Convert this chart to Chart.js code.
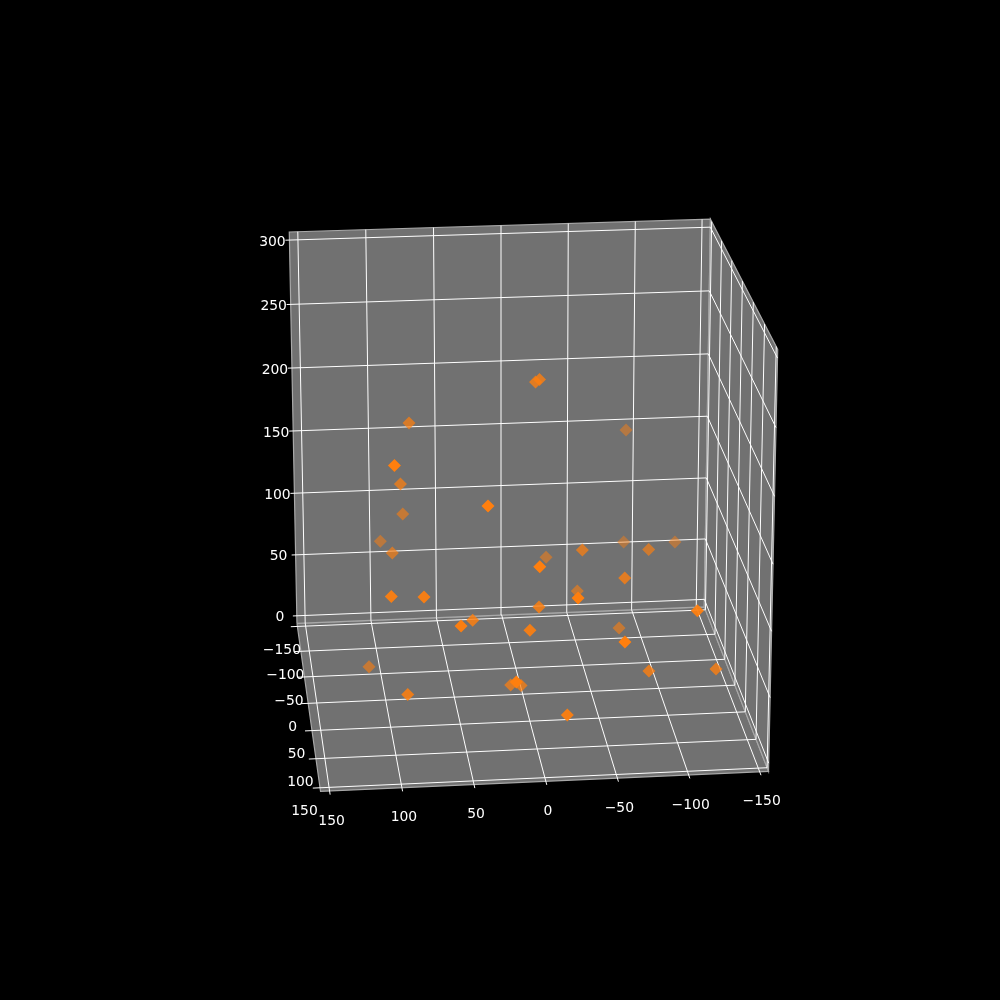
<!DOCTYPE html>
<html>
<head>
<meta charset="utf-8">
<script src="https://cdn.jsdelivr.net/npm/chart.js@4"></script>
<style>
  html, body { margin: 0; background: #000; }
  canvas { display: block; }
</style>
</head>
<body>
<canvas id="chart" width="1000" height="1000"></canvas>
<script>
// tick labels
const xTicks = [150, 100, 50, 0, -50, -100, -150];
const yTicks = [-150, -100, -50, 0, 50, 100, 150];
const zTicks = [0, 50, 100, 150, 200, 250, 300];

// scatter values
const pointX = [-16.0, -13.1, -88.2, 76.8, 94.0, 84.5, 80.7, 96.4, 90.7, 98.0, 75.0, 29.6, 50.5, 38.6, -5.1, -24.9, -44.7, -84.9, -95.1, -121.4, -71.9, -44.7, -31.1, -8.9, 0.2, -117.1, -74.2, -62.8, -86.9, -134.8, -23.0, 109.4, 87.4, 14.1, 9.7, 2.8];
const pointY = [-37.4, -37.2, -108.2, -57.8, 31.8, -43.6, -76.2, -91.3, -47.4, 42.6, 45.4, 48.8, 65.2, 25.1, 67.4, -73.3, -12.5, -90.4, -27.0, -76.1, 17.6, -42.5, 77.9, 27.4, 52.0, 70.8, -29.9, 92.0, 42.0, 47.1, 85.1, -37.8, 47.6, 92.7, 8.9, 15.4];
const pointZ = [224.6, 222.9, 158.3, 187.6, 187.5, 145.6, 110.0, 83.3, 90.5, 92.1, 91.7, 160.6, 76.3, 64.2, 120.0, 72.3, 100.5, 75.5, 93.4, 79.4, 89.2, 56.5, 99.2, 73.2, 65.6, 82.9, 30.8, 69.9, 25.8, 27.2, 12.6, 4.9, 17.8, 43.1, 5.2, 7.3];

// axis limits, view camera
const L = 156.25, ZB = -6.25, ZT = 306.25;
const camera = [
  [-1.384861, -2.008961e-2, -5.755014e-2, 522.7095],
  [3.358478e-2, 3.172507e-1, -1.332266, 686.3633],
  [-3.554394e-5, -3.081897e-4, -1.101750e-4, 1]
];

// 3D -> chart units
function project(x, y, z) {
  const r = camera[2];
  const w = r[0] * x + r[1] * y + r[2] * z + r[3];
  const a = camera[0], b = camera[1];
  return {
    x: (a[0] * x + a[1] * y + a[2] * z + a[3]) / w,
    y: (b[0] * x + b[1] * y + b[2] * z + b[3]) / w,
    w: w
  };
}

function pane(corners) {
  return {
    showLine: true, pointRadius: 0, fill: 'shape', tension: 0,
    backgroundColor: '#717171', borderColor: '#a8a8a8', borderWidth: 1.2,
    data: corners.map(c => project(c[0], c[1], c[2]))
  };
}

function line(from, to) {
  return {
    showLine: true, pointRadius: 0, borderColor: '#ffffff', borderWidth: 1,
    data: [project(from[0], from[1], from[2]), project(to[0], to[1], to[2])]
  };
}

const datasets = [
  pane([[L, -L, ZB], [-L, -L, ZB], [-L, L, ZB], [L, L, ZB], [L, -L, ZB]]),
  pane([[L, -L, ZB], [-L, -L, ZB], [-L, -L, ZT], [L, -L, ZT], [L, -L, ZB]]),
  pane([[-L, -L, ZB], [-L, L, ZB], [-L, L, ZT], [-L, -L, ZT], [-L, -L, ZB]])
];

xTicks.forEach(t => {
  datasets.push(line([t, -L, ZB], [t, -L, ZT]));
  datasets.push(line([t, -L, ZB], [t, L + 6, ZB]));
});
yTicks.forEach(t => {
  datasets.push(line([L + 5, t, ZB], [-L, t, ZB]));
  datasets.push(line([-L, t, ZB], [-L, t, ZT]));
});
zTicks.forEach(t => {
  datasets.push(line([L + 3, -L, t], [-L, -L, t]));
  datasets.push(line([-L, -L, t], [-L, L, t]));
});

// far points first, nearer ones are more opaque
const marks = pointX.map((x, i) => project(x, pointY[i], pointZ[i])).sort((a, b) => b.w - a.w);
const wNear = Math.min(...marks.map(m => m.w));
const wFar = Math.max(...marks.map(m => m.w));
datasets.push({
  data: marks,
  pointStyle: 'rectRot',
  pointRadius: 6.5,
  pointBorderWidth: 0,
  pointBackgroundColor: marks.map(m => {
    const a = 0.45 + 0.55 * (wFar - m.w) / (wFar - wNear);
    return 'rgba(255,127,14,' + a.toFixed(2) + ')';
  })
});

// chart.js paints lower order on top
datasets.forEach((d, i) => { d.order = -i; });

function tickText(v) {
  return String(v).replace('-', '\u2212');
}

const tickLabels = {
  id: 'tickLabels',
  afterDraw(chart) {
    const { ctx, scales } = chart;
    const put = (v, p, dx, dy) => {
      ctx.fillText(tickText(v), scales.x.getPixelForValue(p.x) + dx, scales.y.getPixelForValue(p.y) + dy);
    };
    ctx.save();
    ctx.fillStyle = '#ffffff';
    ctx.font = '13.9px "DejaVu Sans"';
    ctx.textAlign = 'center';
    ctx.textBaseline = 'middle';
    xTicks.forEach(t => put(t, project(t, L, ZB), 2, 30));
    yTicks.forEach(t => put(t, project(L, t, ZB), -15.5, 24));
    zTicks.forEach(t => put(t, project(L, -L, t), -17, 2));
    ctx.restore();
  }
};

new Chart(document.getElementById('chart'), {
  type: 'scatter',
  data: { datasets: datasets },
  options: {
    responsive: false,
    animation: false,
    layout: { padding: 0, autoPadding: false },
    scales: {
      x: { type: 'linear', min: 0, max: 1000, display: false },
      y: { type: 'linear', min: 0, max: 1000, reverse: true, display: false }
    },
    plugins: { legend: { display: false }, tooltip: { enabled: false } }
  },
  plugins: [tickLabels]
});
</script>
</body>
</html>
